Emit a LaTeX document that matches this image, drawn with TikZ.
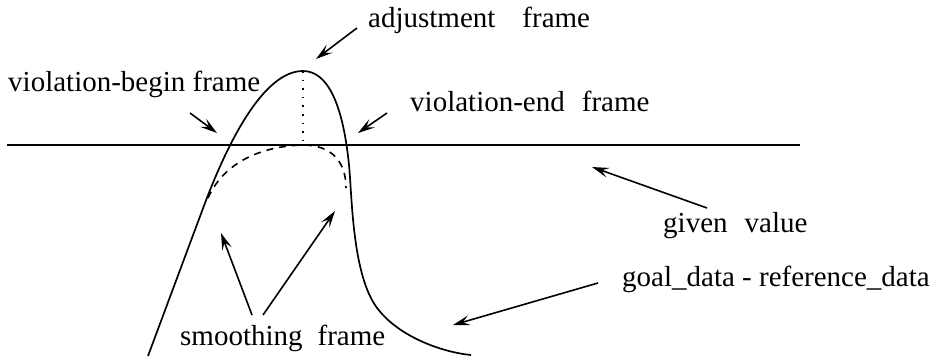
\documentclass[tikz,border=0pt]{standalone}
\usepackage{fontspec}
\setmainfont{Liberation Serif}
\usetikzlibrary{arrows.meta}
\begin{document}
\begin{tikzpicture}[x=1pt,y=-1pt,
  lbl/.style={anchor=base west, inner sep=0pt, font=\fontsize{29}{34}\selectfont},
  pointer/.style={line width=1.6pt, -{Stealth[length=17pt,width=10pt,inset=7pt]}},
  curveline/.style={line width=1.7pt},
  dashline/.style={line width=1.6pt, dash pattern=on 7pt off 6pt},
  dotline/.style={line width=1.6pt, dash pattern=on 1.6pt off 7pt}]
\useasboundingbox (0,0) rectangle (940,358);

% labels
\node[lbl] (adj) at (368,28) {adjustment\hspace{27pt}frame};
\node[lbl] (vb) at (8,92) {violation-begin frame};
\node[lbl] (ve) at (410,112) {violation-end\hspace{17pt}frame};
\node[lbl] (gv) at (663,233) {given\hspace{17pt}value};
\node[lbl] (gr) at (622,287) {goal\_data - reference\_data};
\node[lbl] (sf) at (180,345) {smoothing\hspace{15pt}frame};

% given value line
\coordinate (hl) at (7,145);
\coordinate (hr) at (800,145);
\draw[curveline] (hl) -- (hr);

% peak and dotted line
\coordinate (peak) at (303,71);
\coordinate (pbase) at (303,145);
\draw[dotline] (peak) -- (pbase);

% goal_data - reference_data curve
\coordinate (c0) at (148,356);
\coordinate (c1) at (205,203);
\coordinate (c2) at (349,165);
\coordinate (c3) at (375,305);
\coordinate (c4) at (471,355);
\draw[curveline, line join=round] (c0) -- (c1)
  .. controls (230,137) and (265,71) .. (peak)
  .. controls (328,71) and (343,105) .. (c2)
  .. controls (352,195) and (352,270) .. (c3)
  .. controls (395,335) and (440,352) .. (c4);

% smoothed (dashed) curve
\coordinate (d0) at (208,198);
\coordinate (d1) at (346,188);
\draw[dashline] (d0) .. controls (225,160) and (265,146) .. (pbase)
  .. controls (330,145) and (346,160) .. (d1);

% arrows
\coordinate (adjT) at (357,28);  \coordinate (adjH) at (316,59);
\coordinate (vbT) at (190,113);  \coordinate (vbH) at (217,133);
\coordinate (veT) at (387,113);  \coordinate (veH) at (358,133);
\coordinate (gvT) at (707,208);  \coordinate (gvH) at (592,167);
\coordinate (grT) at (598,283);  \coordinate (grH) at (453,325);
\coordinate (sfL) at (252,315);  \coordinate (sfLH) at (221,233);
\coordinate (sfR) at (263,315);  \coordinate (sfRH) at (335,211);

\draw[pointer] (adjT) -- (adjH);
\draw[pointer] (vbT) -- (vbH);
\draw[pointer] (veT) -- (veH);
\draw[pointer] (gvT) -- (gvH);
\draw[pointer] (grT) -- (grH);
\draw[pointer] (sfL) -- (sfLH);
\draw[pointer] (sfR) -- (sfRH);
\end{tikzpicture}
\end{document}
